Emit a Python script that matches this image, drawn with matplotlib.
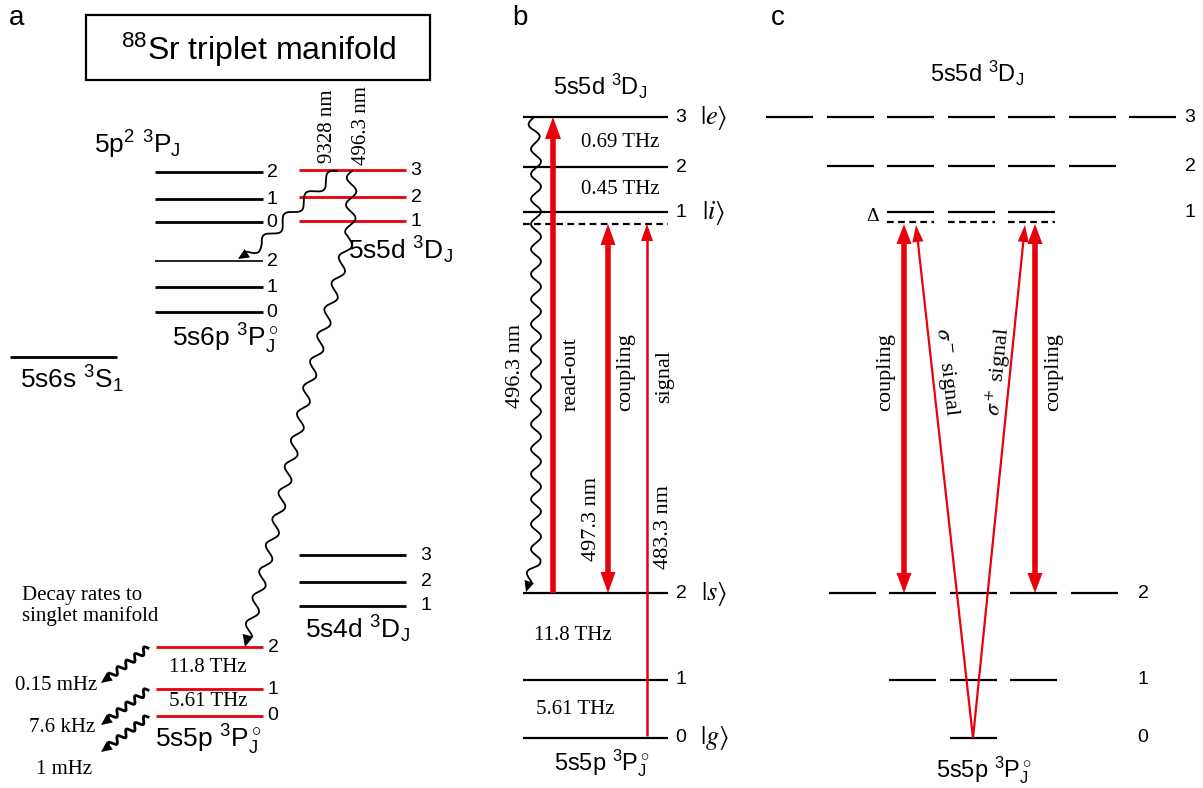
import numpy as np
import matplotlib.pyplot as plt
from matplotlib.patches import Polygon, Rectangle

RED = '#e8000a'
SANS = 'Liberation Sans'
SERIF = 'Liberation Serif'

plt.rcParams['font.family'] = SANS
plt.rcParams['mathtext.fontset'] = 'custom'
plt.rcParams['mathtext.rm'] = SANS
plt.rcParams['mathtext.it'] = SANS + ':italic'
plt.rcParams['mathtext.bf'] = SANS + ':bold'
plt.rcParams['mathtext.sf'] = SANS

# ---- data: level labels and heights (px from top of figure) ----
# panel a
p2_J, p2_y = ['2', '1', '0'], [172, 199, 222]
s6p_J, s6p_y = ['2', '1', '0'], [261, 287, 312]
s6s_y = 357
d5_J, d5_y = ['3', '2', '1'], [170, 197, 221]
d4_J, d4_y = ['3', '2', '1'], [555, 582, 606]
p5_J, p5_y = ['2', '1', '0'], [647, 689, 716]
p5_split = ['11.8 THz', '5.61 THz']
decay_rates = ['0.15 mHz', '7.6 kHz', '1 mHz']
a_wavelengths = ['9328 nm', '496.3 nm']

# panel b
b_up_J, b_up_y, b_up_ket = ['3', '2', '1'], [117, 167, 212], ['e', '', 'i']
b_up_split = ['0.69 THz', '0.45 THz']
b_lo_J, b_lo_y, b_lo_ket = ['2', '1', '0'], [593, 680, 738], ['s', '', 'g']
b_lo_split = ['11.8 THz', '5.61 THz']
virtual_y = 224
b_beams = ['read-out', 'coupling', 'signal']
b_wavelengths = ['496.3 nm', '497.3 nm', '483.3 nm']

# panel c (Zeeman sublevels, 2J+1 of them)
c_up_J, c_up_y = [3, 2, 1], [117, 166, 212]
c_lo_J, c_lo_y = [2, 1, 0], [593, 680, 738]
c_virtual_y = 222

fig = plt.figure(figsize=(12.03, 7.88), dpi=100)
ax = fig.add_axes([0, 0, 1, 1])
ax.set_xlim(0, 1203)
ax.set_ylim(788, 0)
ax.axis('off')


def level(x0, x1, y, color='k', lw=1.8, ls='-'):
    ax.plot([x0, x1], [y, y], color=color, lw=lw, ls=ls, solid_capstyle='butt')


def head(tip, d, hl, hw, color):
    d = np.asarray(d, float)
    d = d / np.hypot(*d)
    p = np.array([-d[1], d[0]])
    tip = np.asarray(tip, float)
    base = tip - d * hl
    ax.add_patch(Polygon([tip, base + p * hw / 2, base - p * hw / 2],
                         closed=True, facecolor=color, edgecolor='none'))


def arrow(p0, p1, lw, hl, hw, both=False, color=RED):
    p0 = np.asarray(p0, float)
    p1 = np.asarray(p1, float)
    d = (p1 - p0) / np.hypot(*(p1 - p0))
    a = p0 + d * hl * 0.8 if both else p0
    b = p1 - d * hl * 0.8
    ax.plot([a[0], b[0]], [a[1], b[1]], color=color, lw=lw, solid_capstyle='butt')
    head(p1, d, hl, hw, color)
    if both:
        head(p0, -d, hl, hw, color)


def wavy(pts, amp, wl, lw=1.3, hl=None, hw=None, color='k'):
    pts = np.asarray(pts, float)
    seg = np.hypot(*np.diff(pts, axis=0).T)
    s = np.concatenate([[0], np.cumsum(seg)])
    end = s[-1] - (hl * 0.7 if hl else 0)
    t = np.linspace(0, end, 800)
    x = np.interp(t, s, pts[:, 0])
    y = np.interp(t, s, pts[:, 1])
    dx, dy = np.gradient(x), np.gradient(y)
    n = np.hypot(dx, dy)
    nx, ny = -dy / n, dx / n
    w = amp * np.sin(2 * np.pi * t / wl) * np.clip((end - t) / 4, 0, 1)
    ax.plot(x + nx * w, y + ny * w, color=color, lw=lw)
    if hl:
        head(pts[-1], pts[-1] - pts[-2], hl, hw, color)


def sans(x, y, s, size=13, **kw):
    ax.text(x, y, s, fontsize=size, family=SANS, **kw)


def serif(x, y, s, size=13, **kw):
    ax.text(x, y, s, fontsize=size, family=SERIF, **kw)


LA = 19    # panel a state labels
LB = 17    # panel b/c state labels
NUM = 14   # J numbers
SR = 15    # serif annotations

# ================= panel a =================
sans(17, 18, 'a', 20, ha='center', va='center')
ax.add_patch(Rectangle((86, 15), 344, 65, fill=False, lw=1.6, ec='k'))
sans(258, 50, r'$^{88}$Sr triplet manifold', 23, ha='center', va='center')

for J, y in zip(p2_J, p2_y):
    level(155, 263, y, lw=2.0)
    sans(272, y, J, NUM, ha='center', va='center')
sans(94, 154, r'5p$^2$ $^3$P$_\mathrm{J}$', LA, ha='left', va='baseline')

for i, (J, y) in enumerate(zip(s6p_J, s6p_y)):
    level(155, 263, y, lw=1.2 if i == 0 else 2.0)
    sans(272, y, J, NUM, ha='center', va='center')
sans(172, 347, r'5s6p $^3$P$_\mathrm{J}^\circ$', LA, ha='left', va='baseline')

level(10, 117, s6s_y, lw=2.0)
sans(20, 388, r'5s6s $^3$S$_1$', LA, ha='left', va='baseline')

for J, y in zip(d5_J, d5_y):
    level(299, 406, y, color=RED, lw=2.0)
    sans(416, y, J, NUM, ha='center', va='center')
sans(348, 259, r'5s5d $^3$D$_\mathrm{J}$', LA, ha='left', va='baseline')

for J, y in zip(d4_J, d4_y):
    level(299, 406, y, lw=2.0)
    sans(426, y, J, NUM, ha='center', va='center')
sans(305, 638, r'5s4d $^3$D$_\mathrm{J}$', LA, ha='left', va='baseline')

for J, y in zip(p5_J, p5_y):
    level(156, 263, y, color=RED, lw=2.0)
    sans(273, y, J, NUM, ha='center', va='center')
sans(155, 748, r'5s5p $^3$P$_\mathrm{J}^\circ$', LA, ha='left', va='baseline')
for k, txt in enumerate(p5_split):
    serif(208, (p5_y[k] + p5_y[k + 1]) / 2 - 1, txt, SR, ha='center', va='center')

serif(328, 126, a_wavelengths[0], 15, rotation=90, ha='center', va='center')
serif(362, 126, a_wavelengths[1], 15, rotation=90, ha='center', va='center')

# decay cascades
wavy([(337, d5_y[0] + 1), (300, 205), (262, 244), (238, 259)], 5, 30, lw=1.3, hl=11, hw=10)
wavy([(352, d5_y[0] + 1), (350, 235), (332, 300), (310, 380), (276, 525), (245, p5_y[0])],
     5, 27, lw=1.3, hl=12, hw=11)

serif(22, 606, 'Decay rates to\nsinglet manifold', SR, ha='left', va='center',
      linespacing=1.05)
rate_xy = [(56, 686), (62, 728), (64, 770)]
for y, txt, (tx, ty) in zip(p5_y, decay_rates, rate_xy):
    wavy([(148, y + 1), (101, y + 36)], 3.2, 11, lw=2.0, hl=11, hw=10)
    serif(tx, ty, txt, SR, ha='center', va='center')

# ================= panel b =================
sans(520, 18, 'b', 20, ha='center', va='center')
for J, y, ket in zip(b_up_J, b_up_y, b_up_ket):
    level(523, 668, y, lw=1.6)
    sans(681, y, J, NUM, ha='center', va='center')
    if ket:
        ax.text(714, y, r'$|%s\rangle$' % ket, fontsize=19, math_fontfamily='stix',
                ha='center', va='center')
level(523, 668, virtual_y, lw=1.6, ls=(0, (3, 2)))
for k, txt in enumerate(b_up_split):
    serif(620, (b_up_y[k] + b_up_y[k + 1]) / 2, txt, SR, ha='center', va='center')
sans(600, 95, r'5s5d $^3$D$_\mathrm{J}$', LB, ha='center', va='baseline')

for J, y, ket in zip(b_lo_J, b_lo_y, b_lo_ket):
    level(523, 668, y, lw=1.6)
    sans(681, y, J, NUM, ha='center', va='center')
    if ket:
        ax.text(714, y, r'$|%s\rangle$' % ket, fontsize=19, math_fontfamily='stix',
                ha='center', va='center')
serif(573, 635, b_lo_split[0], SR, ha='center', va='center')
serif(575, 709, b_lo_split[1], SR, ha='center', va='center')
sans(602, 770, r'5s5p $^3$P$_\mathrm{J}^\circ$', LB, ha='center', va='baseline')

wavy([(533, b_up_y[0] + 1), (536, 150), (536, 560), (526, b_lo_y[0] - 1)],
     5, 25, lw=1.3, hl=11, hw=10)
arrow((553, b_lo_y[0]), (553, b_up_y[0]), 4.0, 22, 16)
arrow((608, b_lo_y[0]), (608, virtual_y), 4.0, 21, 15, both=True)
arrow((647, b_lo_y[2] - 2), (647, virtual_y), 1.8, 17, 12)

serif(515, 366, b_wavelengths[0], 16, rotation=90, ha='center', va='center')
serif(571, 374, b_beams[0], 16, rotation=90, ha='center', va='center')
serif(626, 372, b_beams[1], 16, rotation=90, ha='center', va='center')
serif(665, 376, b_beams[2], 16, rotation=90, ha='center', va='center')
serif(592, 519, b_wavelengths[1], 16, rotation=90, ha='center', va='center')
serif(664, 527, b_wavelengths[2], 16, rotation=90, ha='center', va='center')

# ================= panel c =================
sans(778, 18, 'c', 20, ha='center', va='center')
xc, dm, half = 971, 60.5, 23.5
for J, y in zip(c_up_J, c_up_y):
    for m in range(-J, J + 1):
        level(xc + m * dm - half, xc + m * dm + half, y, lw=1.6)
    sans(1190, y, str(J), NUM, ha='center', va='center')
for m in (-1, 0, 1):
    level(xc + m * dm - half, xc + m * dm + half, c_virtual_y, lw=1.6, ls=(0, (3, 2)))
serif(873, 216, 'Δ', 14, ha='center', va='center')
sans(977, 82, r'5s5d $^3$D$_\mathrm{J}$', LB, ha='center', va='baseline')

for J, y in zip(c_lo_J, c_lo_y):
    for m in range(-J, J + 1):
        level(xc + 2 + m * dm - half, xc + 2 + m * dm + half, y, lw=1.6)
    sans(1143, y, str(J), NUM, ha='center', va='center')
sans(984, 777, r'5s5p $^3$P$_\mathrm{J}^\circ$', LB, ha='center', va='baseline')

arrow((904, c_lo_y[0]), (904, c_virtual_y + 2), 4.0, 20, 15, both=True)
arrow((1035, c_lo_y[0]), (1035, c_virtual_y + 2), 4.0, 20, 15, both=True)
arrow((973, c_lo_y[2]), (916, c_virtual_y + 3), 1.6, 17, 11)
arrow((973, c_lo_y[2]), (1025, c_virtual_y + 3), 1.6, 17, 11)

serif(886, 372, 'coupling', 16, rotation=90, ha='center', va='center')
serif(1054, 372, 'coupling', 16, rotation=90, ha='center', va='center')
ax.text(946, 372, r'$\sigma^-$ signal', fontsize=16, family=SERIF, math_fontfamily='stix',
        rotation=-83.7, ha='center', va='center')
ax.text(999, 372, r'$\sigma^+$ signal', fontsize=16, family=SERIF, math_fontfamily='stix',
        rotation=84.2, ha='center', va='center')

fig.savefig('out.png', dpi=100)
